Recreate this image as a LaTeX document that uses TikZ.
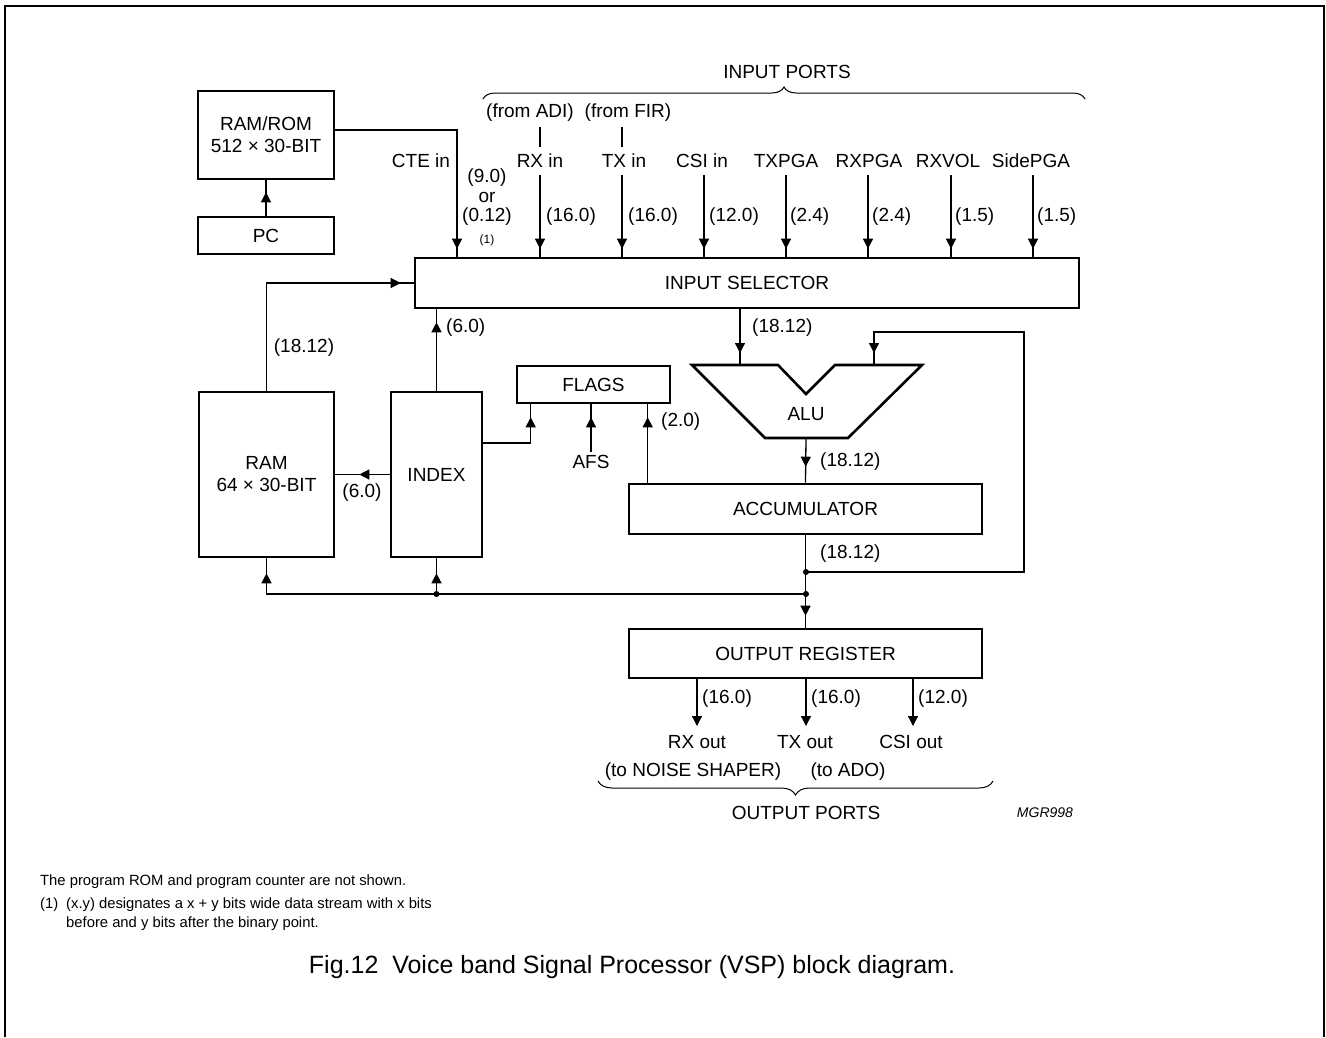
\documentclass[tikz,border=0pt]{standalone}
\usepackage{fontspec}
\setmainfont{Liberation Sans}
\usetikzlibrary{arrows.meta,decorations.markings,decorations.pathreplacing}
\begin{document}
\begin{tikzpicture}[x=1pt,y=-1pt,font=\fontsize{19}{22}\selectfont,
  box/.style={draw,line width=2.6pt,inner sep=0pt,align=center},
  conn/.style={line width=1.3pt},
  tipat/.style={postaction={decorate},decoration={markings,mark=at position -#1 with {\arrow{Triangle[width=10pt,length=10pt]}}}},
  endtip/.style={-{Triangle[width=10pt,length=10pt]}},
  lbl/.style={inner sep=0pt},
  small/.style={inner sep=0pt,font=\fontsize{12}{14}\selectfont},
  note/.style={inner sep=0pt,anchor=west,font=\fontsize{14.8}{17}\selectfont},
  brc/.style={line width=1pt,decorate},
  dot/.style={circle,fill,inner sep=0pt,minimum size=6pt}]
\useasboundingbox (0,0) rectangle (1326,1037);
\draw[line width=1.8pt] (5,1037) -- (5,6) -- (1324,6) -- (1324,1037);

% blocks
\node[box,minimum width=136pt,minimum height=88pt] (rom) at (266,135) {RAM/ROM\\512 × 30-BIT};
\node[box,minimum width=136pt,minimum height=37pt] (pc) at (266,235.5) {PC};
\node[box,minimum width=664pt,minimum height=50pt] (sel) at (747,283) {INPUT SELECTOR};
\node[box,minimum width=135pt,minimum height=165pt] (ram) at (266.5,474.5) {RAM\\64 × 30-BIT};
\node[box,minimum width=91pt,minimum height=165pt] (idx) at (436.5,474.5) {INDEX};
\node[box,minimum width=153pt,minimum height=37pt] (flags) at (593.5,384.5) {FLAGS};
\node[box,minimum width=353pt,minimum height=50pt] (acc) at (805.5,509) {ACCUMULATOR};
\node[box,minimum width=353pt,minimum height=49pt] (oreg) at (805.5,653.5) {OUTPUT REGISTER};

% ALU
\coordinate (a1) at (692,365);
\coordinate (a2) at (778,365);
\coordinate (a3) at (806,394);
\coordinate (a4) at (835,365);
\coordinate (a5) at (922,365);
\coordinate (a6) at (848,438);
\coordinate (a7) at (765,438);
\draw[line width=2.6pt,line join=miter] (a1)--(a2)--(a3)--(a4)--(a5)--(a6)--(a7)--cycle;
\node[lbl] (alu) at (806,414) {ALU};
\coordinate (aluinL) at (740,365);
\coordinate (aluinR) at (874,365);
\coordinate (aluout) at (806,438);

% PC -> ROM
\draw[conn,tipat=12pt] (pc.north) -- (rom.south);
% ROM -> selector (CTE in)
\coordinate (romout) at (334,130);
\coordinate (ctebend) at (457,130);
\draw[conn,tipat=8pt] (romout) -- (ctebend) -- (ctebend |- sel.north);
\node[lbl] (cte) at (421,161) {CTE in};
\node[lbl] (c1) at (487,178) {(9.0)};
\node[lbl] (c2) at (487,197) {or};
\node[lbl] (c3) at (487,217) {(0.12)};
\node[small] (c4) at (487,240) {(1)};

% input ports
\coordinate (prx) at (540,175);
\coordinate (ptx) at (622,175);
\coordinate (pcsi) at (704,175);
\coordinate (ptxp) at (786,175);
\coordinate (prxp) at (868,175);
\coordinate (prxv) at (951,175);
\coordinate (pside) at (1033,175);
\foreach \p in {prx,ptx,pcsi,ptxp,prxp,prxv,pside}
  \draw[conn,tipat=8pt] (\p) -- (\p |- sel.north);
\coordinate (frx1) at (540,127);
\coordinate (frx2) at (540,147);
\coordinate (ftx1) at (622,127);
\coordinate (ftx2) at (622,147);
\draw[conn] (frx1) -- (frx2);
\draw[conn] (ftx1) -- (ftx2);
\node[lbl] (fadi) at (530,113) {(from ADI)};
\node[lbl] (ffir) at (628,113) {(from FIR)};
\node[lbl] at (540,161) {RX in};
\node[lbl] at (624,161) {TX in};
\node[lbl] at (702,161) {CSI in};
\node[lbl] at (786,161) {TXPGA};
\node[lbl] at (869,161) {RXPGA};
\node[lbl] at (948,161) {RXVOL};
\node[lbl] at (1031,161) {SidePGA};
\node[lbl,anchor=west] at (546,217) {(16.0)};
\node[lbl,anchor=west] at (628,217) {(16.0)};
\node[lbl,anchor=west] at (709,217) {(12.0)};
\node[lbl,anchor=west] at (790,217) {(2.4)};
\node[lbl,anchor=west] at (872,217) {(2.4)};
\node[lbl,anchor=west] at (955,217) {(1.5)};
\node[lbl,anchor=west] at (1037,217) {(1.5)};
% input ports brace
\coordinate (ib1) at (483,99);
\coordinate (ib2) at (1085,99);
\draw[brc,decoration={brace,amplitude=12pt}] (ib1) -- (ib2);
\node[lbl] (inports) at (787,72) {INPUT PORTS};

% RAM -> selector loop
\draw[conn,tipat=13pt] (ram.north) |- (sel.west);
\node[lbl] at (304,348) {(18.12)};
% INDEX -> selector
\draw[conn,tipat=13pt] (idx.north) -- (idx.north |- sel.south);
\node[lbl,anchor=west] at (446,328) {(6.0)};
% INDEX -> RAM
\draw[conn,tipat=24pt] (idx.west) -- (ram.east);
\node[lbl] at (362,493) {(6.0)};
% INDEX -> FLAGS
\draw[conn,tipat=13pt] ([yshift=31.5pt]idx.east) -| ([xshift=15pt]flags.south west);
% AFS
\node[lbl] (afs) at (591,462) {AFS};
\draw[conn,tipat=13pt] ([yshift=3pt]afs.north) -- (afs.north |- flags.south);
% ACC -> FLAGS
\draw[conn,tipat=13pt] ([xshift=20pt]acc.north west) -- ([xshift=20pt]acc.north west |- flags.south);
\node[lbl,anchor=west] at (661,422) {(2.0)};

% selector -> ALU
\draw[conn,tipat=12pt] (aluinL |- sel.south) -- (aluinL);
\node[lbl,anchor=west] at (752,328) {(18.12)};
% ALU -> ACC
\draw[conn,tipat=16pt] (aluout) -- (acc.north);
\node[lbl,anchor=west] at (820,462) {(18.12)};
% ACC -> OREG
\coordinate (j1) at (806,572);
\coordinate (j2) at (806,594);
\draw[conn,tipat=12pt] (acc.south) -- (oreg.north);
\node[lbl,anchor=west] at (820,554) {(18.12)};
% feedback
\coordinate (fbR) at (1024,332);
\draw[conn,tipat=12pt] (j1) -| (fbR) -| (aluinR);
% bus to RAM and INDEX
\draw[conn,tipat=15pt] (j2) -| (ram.south);
\coordinate (j3) at (idx.south |- j2);
\draw[conn,tipat=15pt] (j3) -- (idx.south);
\node[dot] at (j1) {};
\node[dot] at (j2) {};
\node[dot] at (j3) {};

% outputs
\coordinate (o1) at (697,726);
\coordinate (o2) at (806,726);
\coordinate (o3) at (913,726);
\foreach \o in {o1,o2,o3}
  \draw[conn,endtip] (\o |- oreg.south) -- (\o);
\node[lbl,anchor=west] at (702,699) {(16.0)};
\node[lbl,anchor=west] at (811,699) {(16.0)};
\node[lbl,anchor=west] at (918,699) {(12.0)};
\node[lbl] at (697,742) {RX out};
\node[lbl] at (805,742) {TX out};
\node[lbl] at (911,742) {CSI out};
\node[lbl] at (693,772) {(to NOISE SHAPER)};
\node[lbl] at (848,772) {(to ADO)};
\coordinate (ob1) at (993,781);
\coordinate (ob2) at (598,781);
\draw[brc,decoration={brace,amplitude=14pt}] (ob1) -- (ob2);
\node[lbl] (outports) at (806,813) {OUTPUT PORTS};
\node[lbl,font=\fontsize{14}{16}\selectfont\itshape] (mgr) at (1045,813) {MGR998};

% notes
\node[note] at (40,882) {The program ROM and program counter are not shown.};
\node[note] at (40,905) {(1)};
\node[note] at (66,905) {(x.y) designates a x + y bits wide data stream with x bits};
\node[note] at (66,924) {before and y bits after the binary point.};
\node[lbl,font=\fontsize{25}{28}\selectfont] (cap) at (632,967) {Fig.12\ \ Voice band Signal Processor (VSP) block diagram.};
\end{tikzpicture}
\end{document}
